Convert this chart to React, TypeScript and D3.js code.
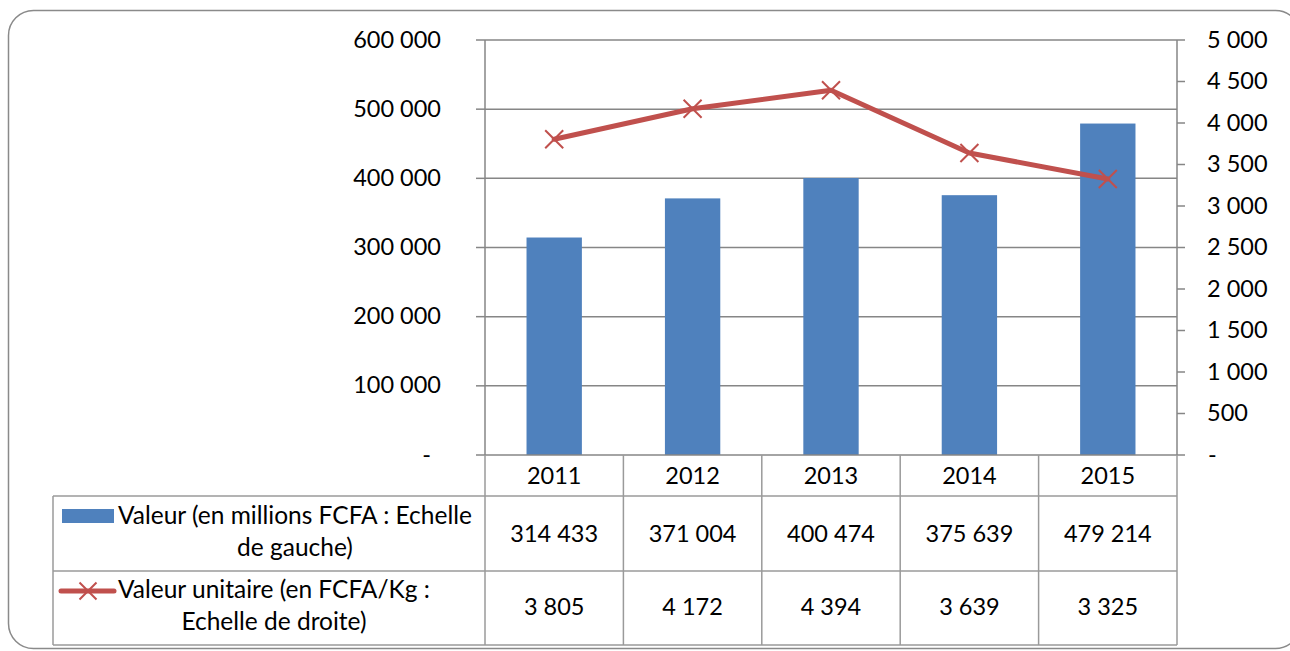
import React, { useEffect, useRef } from "react";
import * as d3 from "d3";

const years = ["2011", "2012", "2013", "2014", "2015"];
const valeur = [314433, 371004, 400474, 375639, 479214];
const valeurUnitaire = [3805, 4172, 4394, 3639, 3325];
const leftTicks = [0, 100000, 200000, 300000, 400000, 500000, 600000];
const rightTicks = [0, 500, 1000, 1500, 2000, 2500, 3000, 3500, 4000, 4500, 5000];
const legendBar = ["Valeur (en millions FCFA : Echelle", "de gauche)"];
const legendLine = ["Valeur unitaire (en FCFA/Kg :", "Echelle de droite)"];

const BLUE = "#4F81BD";
const RED = "#C0504D";
const GRID = "#868686";
const TABLE = "#9A9A9A";
const FONT = "Lato, 'Open Sans', sans-serif";
const FS = 23.5;
const FS_LEG = 24.5;

export default function App() {
  const ref = useRef<SVGSVGElement>(null);

  useEffect(() => {
    const svg = d3.select(ref.current);
    svg.selectAll("*").remove();

    const locale = d3.formatLocale({ thousands: " ", grouping: [3], decimal: ",", currency: ["", ""] });
    const fmt = locale.format(",d");

    const left = 485, right = 1177, top = 40, bottom = 455;
    const rowH = [455, 496, 571, 645];
    const legendLeft = 53;

    const x = d3.scaleBand<string>().domain(years).range([left, right]).padding(0);
    const xBar = d3.scaleBand<string>().domain(years).range([left, right]).paddingInner(0.6).paddingOuter(0.3);
    const yL = d3.scaleLinear().domain([0, 600000]).range([bottom, top]);
    const yR = d3.scaleLinear().domain([0, 5000]).range([bottom, top]);

    // outer frame
    svg.append("rect")
      .attr("x", 8.5).attr("y", 10.5).attr("width", 1292).attr("height", 638)
      .attr("rx", 25).attr("ry", 25)
      .attr("fill", "white").attr("stroke", "#8a8a8a").attr("stroke-width", 1.5);

    // gridlines
    svg.append("g").selectAll("line").data(leftTicks.filter(t => t > 0)).join("line")
      .attr("x1", left).attr("x2", right)
      .attr("y1", d => yL(d)).attr("y2", d => yL(d))
      .attr("stroke", GRID).attr("stroke-width", 1.5);

    // bars
    svg.append("g").selectAll("rect").data(valeur).join("rect")
      .attr("x", (d, i) => xBar(years[i])!)
      .attr("width", xBar.bandwidth())
      .attr("y", d => yL(d))
      .attr("height", d => bottom - yL(d))
      .attr("fill", BLUE);

    // left axis
    const la = svg.append("g").attr("stroke", GRID).attr("stroke-width", 1.5);
    la.append("line").attr("x1", left).attr("x2", left).attr("y1", top).attr("y2", bottom);
    la.selectAll("line.t").data(leftTicks).join("line").attr("class", "t")
      .attr("x1", 476).attr("x2", left).attr("y1", d => yL(d)).attr("y2", d => yL(d));
    svg.append("g").selectAll("text").data(leftTicks).join("text")
      .attr("x", d => (d === 0 ? 431 : 441))
      .attr("y", d => yL(d) + 7.5)
      .attr("text-anchor", "end")
      .attr("font-family", FONT).attr("font-size", FS).attr("fill", "#000")
      .text(d => (d === 0 ? "-" : fmt(d)));

    // right axis
    const ra = svg.append("g").attr("stroke", GRID).attr("stroke-width", 1.5);
    ra.append("line").attr("x1", right).attr("x2", right).attr("y1", top).attr("y2", bottom);
    ra.selectAll("line.t").data(rightTicks).join("line").attr("class", "t")
      .attr("x1", right).attr("x2", 1185).attr("y1", d => yR(d)).attr("y2", d => yR(d));
    svg.append("g").selectAll("text").data(rightTicks).join("text")
      .attr("x", d => (d === 0 ? 1208 : 1207))
      .attr("y", d => yR(d) + 7.5)
      .attr("text-anchor", "start")
      .attr("font-family", FONT).attr("font-size", FS).attr("fill", "#000")
      .text(d => (d === 0 ? "-" : fmt(d)));

    // line series
    const cx = (i: number) => x(years[i])! + x.bandwidth() / 2;
    const line = d3.line<number>().x((d, i) => cx(i)).y(d => yR(d));
    svg.append("path").datum(valeurUnitaire)
      .attr("d", line)
      .attr("fill", "none").attr("stroke", RED).attr("stroke-width", 5)
      .attr("stroke-linejoin", "round").attr("stroke-linecap", "round");
    const m = 9;
    const markers = svg.append("g").attr("stroke", RED).attr("stroke-width", 2);
    valeurUnitaire.forEach((d, i) => {
      const px = cx(i), py = yR(d);
      markers.append("path").attr("d", `M${px - m},${py - m}L${px + m},${py + m}M${px - m},${py + m}L${px + m},${py - m}`);
    });

    // data table
    const tb = svg.append("g").attr("stroke", TABLE).attr("stroke-width", 1.5);
    tb.append("line").attr("x1", left).attr("x2", right).attr("y1", rowH[0]).attr("y2", rowH[0]).attr("stroke", GRID);
    rowH.slice(1).forEach(yy => {
      tb.append("line").attr("x1", legendLeft).attr("x2", right).attr("y1", yy).attr("y2", yy);
    });
    tb.append("line").attr("x1", legendLeft).attr("x2", legendLeft).attr("y1", rowH[1]).attr("y2", rowH[3]);
    [...years.map(y => x(y)!), right].forEach(xx => {
      tb.append("line").attr("x1", xx).attr("x2", xx).attr("y1", rowH[0]).attr("y2", rowH[3]);
    });

    const txt = svg.append("g").attr("font-family", FONT).attr("font-size", FS).attr("fill", "#000").attr("text-anchor", "middle");
    years.forEach((yr, i) => {
      const c = cx(i);
      txt.append("text").attr("x", c).attr("y", 484).text(yr);
      txt.append("text").attr("x", c).attr("y", 542).text(fmt(valeur[i]));
      txt.append("text").attr("x", c).attr("y", 615).text(fmt(valeurUnitaire[i]));
    });

    // legend keys
    svg.append("rect").attr("x", 62).attr("y", 509).attr("width", 52).attr("height", 14).attr("fill", BLUE);
    svg.append("line").attr("x1", 61).attr("x2", 114).attr("y1", 591).attr("y2", 591)
      .attr("stroke", RED).attr("stroke-width", 5).attr("stroke-linecap", "round");
    const lm = 8.5;
    svg.append("path").attr("d", `M${88 - lm},${591 - lm}L${88 + lm},${591 + lm}M${88 - lm},${591 + lm}L${88 + lm},${591 - lm}`)
      .attr("stroke", RED).attr("stroke-width", 2);

    const legendText = (lines: string[], y1: number) => {
      const g = svg.append("g").attr("font-family", FONT).attr("font-size", FS_LEG).attr("fill", "#000");
      const t1 = g.append("text").attr("x", 118).attr("y", y1).text(lines[0]);
      const w = (t1.node() as SVGTextElement).getComputedTextLength();
      g.append("text").attr("x", 118 + w / 2).attr("y", y1 + 32).attr("text-anchor", "middle").text(lines[1]);
    };
    legendText(legendBar, 524);
    legendText(legendLine, 598);
  }, []);

  return (
    <svg
      ref={ref}
      width={1290}
      height={651}
      style={{ position: "absolute", left: 0, top: 0, display: "block", background: "white" }}
    />
  );
}
